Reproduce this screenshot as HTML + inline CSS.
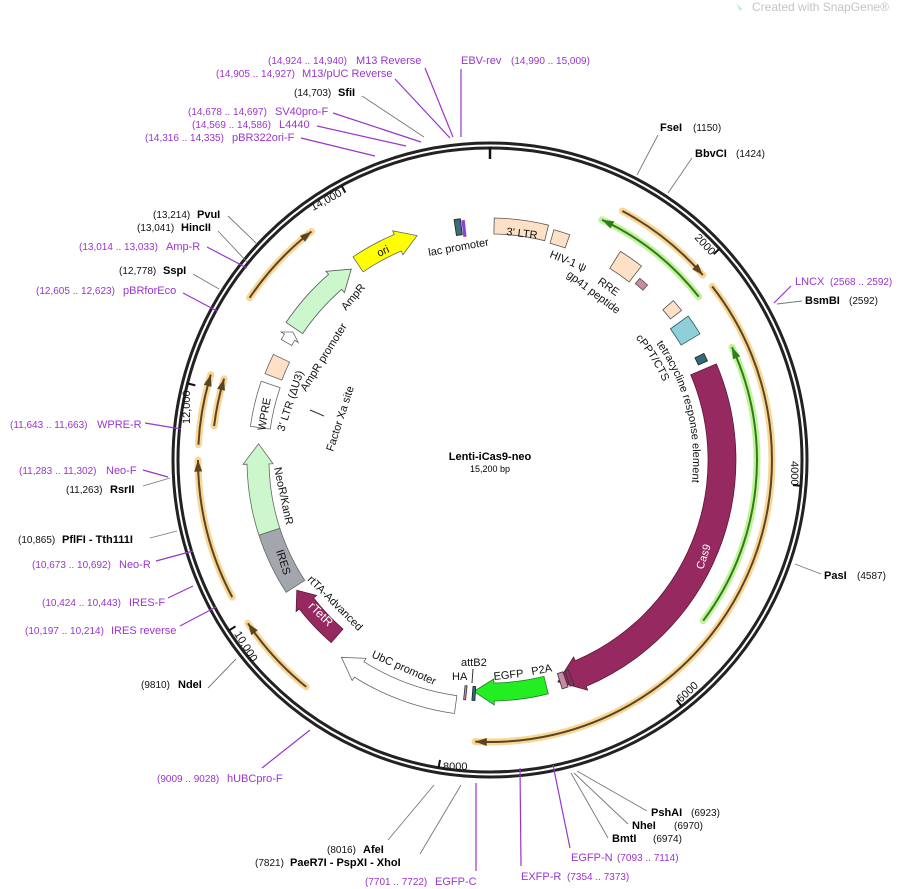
<!DOCTYPE html>
<html><head><meta charset="utf-8">
<style>
html,body{margin:0;padding:0;background:#fff;}
svg{display:block;font-family:"Liberation Sans","DejaVu Sans",sans-serif;}
.p{fill:#9a35cc;font-size:10px;}
.pn{fill:#9a35cc;font-size:11px;}
.k{fill:#111;font-size:10px;}
.b{fill:#000;font-size:11px;font-weight:bold;}
.f{fill:#111;font-size:11px;}
.pl{stroke:#9a35cc;stroke-width:1.2;fill:none;}
.gl{stroke:#777;stroke-width:0.9;fill:none;}
</style></head><body>
<svg id="s" width="904" height="889" viewBox="0 0 904 889" xmlns="http://www.w3.org/2000/svg">
<text x="752" y="11" style="fill:#c4c4c4;font-size:12px">Created with SnapGene®</text>
<path d="M736 3 l4 8 l2 -2 z" fill="#bfe3ef"/>
<circle cx="490" cy="460" r="317" fill="none" stroke="#222" stroke-width="3"/>
<circle cx="490" cy="460" r="312" fill="none" stroke="#222" stroke-width="3"/>
<g id="dyn"></g>
<line x1="490" y1="147" x2="490" y2="159" stroke="#111" stroke-width="2.5"/>

<text class="f" font-size="10" transform="translate(313,211) rotate(-28)">14,000</text>
<text class="f" font-size="10" transform="translate(694,238) rotate(47)">2000</text>
<text class="f" font-size="10" transform="translate(791,461) rotate(90)">4000</text>
<text class="f" font-size="10" transform="translate(681,703) rotate(-43)">6000</text>
<text class="f" font-size="10" x="443" y="770">8000</text>
<text class="f" font-size="10" transform="translate(234,634) rotate(58)">10,000</text>
<text class="f" font-size="10" transform="translate(190,424) rotate(-90)">12,000</text>

<text x="490" y="460" text-anchor="middle" style="font-weight:bold;font-size:11px">Lenti-iCas9-neo</text>
<text x="490" y="472" text-anchor="middle" style="font-size:9px">15,200 bp</text>

<path class="pl" d="M425 68 L453 137 M395 79 L450 138 M461 69 L461 137 M333 113 L421 142 M317 126 L406 146 M301 138 L375 156"/>
<path class="gl" d="M362 96 L424 137"/>
<text class="p" x="268" y="64">(14,924 .. 14,940)</text><text class="pn" x="356" y="64">M13 Reverse</text>
<text class="p" x="216" y="77">(14,905 .. 14,927)</text><text class="pn" x="302" y="77">M13/pUC Reverse</text>
<text class="pn" x="461" y="64">EBV-rev</text><text class="p" x="511" y="64">(14,990 .. 15,009)</text>
<text class="k" x="294" y="96">(14,703)</text><text class="b" x="338" y="96">SfiI</text>
<text class="p" x="188" y="115">(14,678 .. 14,697)</text><text class="pn" x="275" y="115">SV40pro-F</text>
<text class="p" x="192" y="128">(14,569 .. 14,586)</text><text class="pn" x="279" y="128">L4440</text>
<text class="p" x="145" y="141">(14,316 .. 14,335)</text><text class="pn" x="232" y="141">pBR322ori-F</text>

<path class="gl" d="M637 175 L658 135 M668 193 L692 158 M777 304 L802 301 M795 564 L821 574"/>
<path class="pl" d="M774 303 L791 286"/>
<text class="b" x="660" y="131">FseI</text><text class="k" x="693" y="131">(1150)</text>
<text class="b" x="695" y="157">BbvCI</text><text class="k" x="736" y="157">(1424)</text>
<text class="pn" x="795" y="285">LNCX</text><text class="p" x="830" y="285">(2568 .. 2592)</text>
<text class="b" x="805" y="304">BsmBI</text><text class="k" x="849" y="304">(2592)</text>
<text class="b" x="824" y="579">PasI</text><text class="k" x="857" y="579">(4587)</text>

<path class="gl" d="M577 771 L647 811 M574 773 L628 824 M571 773 L608 838 M434 785 L388 840 M461 785 L420 854 M236 659 L208 688"/>
<path class="pl" d="M553 765 L570 848 M520 768 L521 866 M476 783 L476 871 M310 730 L262 768"/>
<text class="b" x="651" y="816">PshAI</text><text class="k" x="691" y="816">(6923)</text>
<text class="b" x="632" y="829">NheI</text><text class="k" x="674" y="829">(6970)</text>
<text class="b" x="612" y="842">BmtI</text><text class="k" x="653" y="842">(6974)</text>
<text class="pn" x="571" y="861">EGFP-N</text><text class="p" x="617" y="861">(7093 .. 7114)</text>
<text class="pn" x="521" y="880">EXFP-R</text><text class="p" x="567" y="880">(7354 .. 7373)</text>
<text class="p" x="365" y="885">(7701 .. 7722)</text><text class="pn" x="435" y="885">EGFP-C</text>
<text class="k" x="327" y="853">(8016)</text><text class="b" x="363" y="853">AfeI</text>
<text class="k" x="255" y="866">(7821)</text><text class="b" x="266" y="866" dx="24">PaeR7I  - PspXI  - XhoI</text>
<text class="p" x="157" y="782">(9009 .. 9028)</text><text class="pn" x="227" y="782">hUBCpro-F</text>
<text class="k" x="141" y="688">(9810)</text><text class="b" x="178" y="688">NdeI</text>

<path class="gl" d="M228 216 L256 243 M218 231 L247 262 M193 274 L219 289 M143 486 L170 478 M150 538 L177 531"/>
<path class="pl" d="M207 247 L247 268 M183 293 L217 311 M145 423 L181 429 M143 470 L168 477 M156 561 L193 551 M168 598 L193 586 M180 626 L216 607"/>
<text class="k" x="153" y="218">(13,214)</text><text class="b" x="197" y="218">PvuI</text>
<text class="k" x="137" y="231">(13,041)</text><text class="b" x="181" y="231">HincII</text>
<text class="p" x="79" y="250">(13,014 .. 13,033)</text><text class="pn" x="166" y="250">Amp-R</text>
<text class="k" x="119" y="274">(12,778)</text><text class="b" x="163" y="274">SspI</text>
<text class="p" x="36" y="294">(12,605 .. 12,623)</text><text class="pn" x="123" y="294">pBRforEco</text>
<text class="p" x="10" y="428">(11,643 .. 11,663)</text><text class="pn" x="97" y="428">WPRE-R</text>
<text class="p" x="19" y="474">(11,283 .. 11,302)</text><text class="pn" x="106" y="474">Neo-F</text>
<text class="k" x="66" y="493">(11,263)</text><text class="b" x="110" y="493">RsrII</text>
<text class="k" x="18" y="543">(10,865)</text><text class="b" x="62" y="543">PflFI  - Tth111I</text>
<text class="p" x="32" y="568">(10,673 .. 10,692)</text><text class="pn" x="119" y="568">Neo-R</text>
<text class="p" x="42" y="606">(10,424 .. 10,443)</text><text class="pn" x="129" y="606">IRES-F</text>
<text class="p" x="25" y="634">(10,197 .. 10,214)</text><text class="pn" x="111" y="634">IRES reverse</text>

<defs>
<path id="tre" d="M 660.9 335.3 A 212 212 0 0 1 701.7 478.5"/>
<path id="cppt" d="M 637.2 336.6 A 192 192 0 0 1 668 388"/>
</defs>
<text class="f" transform="translate(429,256) rotate(-10)">lac promoter</text>
<text class="f" transform="translate(506,235) rotate(7)">3' LTR</text>
<text class="f" transform="translate(549,257) rotate(22)">HIV-1 ψ</text>
<text class="f" transform="translate(597,283) rotate(35)">RRE</text>
<text class="f" transform="translate(566,276) rotate(37)">gp41 peptide</text>
<text class="f"><textPath href="#tre">tetracycline response element</textPath></text>
<text class="f"><textPath href="#cppt">cPPT/CTS</textPath></text>
<text class="f" transform="translate(346,311) rotate(-50)">AmpR</text>
<text class="f" style="font-size:11px" transform="translate(379,257) rotate(-25)">ori</text>
<text class="f" transform="translate(306,392) rotate(-58)">AmpR promoter</text>
<text class="f" transform="translate(284,432) rotate(-72)">3' LTR (ΔU3)</text>
<text class="f" transform="translate(265,431) rotate(-80)">WPRE</text>
<text class="f" transform="translate(333,452) rotate(-72)">Factor Xa site</text>
<line x1="310" y1="410" x2="324" y2="416" stroke="#333" stroke-width="1"/>
<text class="f" transform="translate(274,468) rotate(78)">NeoR/KanR</text>
<text class="f" transform="translate(276,551) rotate(72)">IRES</text>
<text class="f" transform="translate(307,580) rotate(45)">rtTA-Advanced</text>
<text class="f" style="fill:#fff;font-size:12px" text-anchor="middle" transform="translate(318,617) rotate(44)">rTetR</text>
<text class="f" transform="translate(371,657) rotate(24)">UbC promoter</text>
<text class="f" x="452" y="680">HA</text>
<text class="f" x="461" y="666">attB2</text>
<line x1="473" y1="669" x2="472" y2="683" stroke="#333"/>
<text class="f" transform="translate(494,680) rotate(-6)">EGFP</text>
<text class="f" transform="translate(532,675) rotate(-10)">P2A</text>
<text class="f" style="fill:#fff" transform="translate(703,570) rotate(-72)">Cas9</text>
</svg>
<script>
(function(){
var NS="http://www.w3.org/2000/svg",g=document.getElementById("dyn");
function P(r,a){a=a*Math.PI/180;return [(490+r*Math.sin(a)).toFixed(1),(460-r*Math.cos(a)).toFixed(1)];}
function add(tag,at){var e=document.createElementNS(NS,tag);for(var k in at)e.setAttribute(k,at[k]);g.appendChild(e);return e;}
function arc(r,a1,a2){var s=P(r,a1),e=P(r,a2),l=Math.abs(a2-a1)>180?1:0,sw=a2>a1?1:0;return "M"+s+" A"+r+" "+r+" 0 "+l+" "+sw+" "+e;}
function arcTo(r,a1,a2){var e=P(r,a2),l=Math.abs(a2-a1)>180?1:0,sw=a2>a1?1:0;return " A"+r+" "+r+" 0 "+l+" "+sw+" "+e;}
function feat(r,w,a1,a2,fill,stroke,dir,hl){
  var ro=r+w/2,ri=r-w/2,hw=w/2+4,d;hl=hl||(800/r);
  if(dir==0){d="M"+P(ro,a1)+arcTo(ro,a1,a2)+" L"+P(ri,a2)+arcTo(ri,a2,a1)+" Z";}
  else if(dir==1){var b=a2-hl;d="M"+P(ro,a1)+arcTo(ro,a1,b)+" L"+P(r+hw,b)+" L"+P(r,a2)+" L"+P(r-hw,b)+" L"+P(ri,b)+arcTo(ri,b,a1)+" Z";}
  else{var b=a1+hl;d="M"+P(ro,a2)+arcTo(ro,a2,b)+" L"+P(r+hw,b)+" L"+P(r,a1)+" L"+P(r-hw,b)+" L"+P(ri,b)+arcTo(ri,b,a2)+" Z";}
  add("path",{d:d,fill:fill,stroke:stroke||"#555","stroke-width":0.8});
}
function parc(r,a1,a2,dir,glow,line){
  add("path",{d:arc(r,a1,a2),fill:"none",stroke:glow,"stroke-width":7,"stroke-linecap":"round",opacity:0.85});
  add("path",{d:arc(r,a1,a2),fill:"none",stroke:line,"stroke-width":2});
  var t=dir>0?a2:a1,b=dir>0?a2-2.2*300/r:a1+2.2*300/r;
  add("path",{d:"M"+P(r,t)+" L"+P(r+4,b)+" L"+P(r-4,b)+" Z",fill:line});
}
document.getElementById("tre").setAttribute("d",arc(203,55,97));
document.getElementById("cppt").setAttribute("d",arc(190,50,68));
[2000,4000,6000,8000,10000,12000,14000].forEach(function(v){var a=v/15200*360;add("line",{x1:P(312,a)[0],y1:P(312,a)[1],x2:P(304,a)[0],y2:P(304,a)[1],stroke:"#111","stroke-width":2});});
var OG="#f7cf85",OL="#5b4420";
parc(282,28,49,1,OG,OL);
parc(282,52,183,1,OG,OL);
parc(292,219,236,1,OG,OL);
parc(292,242,270,1,OG,OL);
parc(292,273,287,1,OG,OL);
parc(278,277,287,1,OG,OL);
parc(290,304,322,1,OG,OL);
var GG="#b8f08a",GL="#2e7d1b";
parc(265,25,52,-1,GG,GL);
parc(267,65,127,-1,GG,GL);
feat(232,28,67,163,"#962a60","#5a1838",1,6);
feat(232,18,166,184,"#22ee22","#2a7a2a",1,5);
feat(247,18,188,217,"#fff","#666",1,5);
feat(233,18,221,236,"#962a60","#5a1838",1,4);
feat(232,22,237,252,"#a3a7ad","#666",0);
feat(232,22,252,274,"#ccf7cc","#666",1,5);
feat(232,20,278,289,"#fff","#666",0);
feat(232,18,291,296,"#fde0c5","#666",0);
feat(235,12,300,303,"#fff","#666",1,1.5);
feat(236,20,304,324,"#ccf7cc","#555",1,5);
feat(236,18,326,342,"#ffff00","#666",1,5);
feat(234,16,1,14,"#fde0c5","#555",0);
feat(232,14,15.5,19.5,"#fde0c5","#555",0);
feat(236,20,32,38,"#fde0c5","#555",0);
feat(232,7,39.5,42,"#c98aa3","#555",0);
feat(236,14,49,52,"#fde0c5","#555",0);
feat(234,22,54,59,"#8fd0d8","#2a5a64",0);
feat(234,10,63.5,65.5,"#2f6b78","#222",0);
feat(235,16,351.5,353,"#3f6a78","#222",0);
feat(233,16,353.3,353.9,"#8844dd","#8844dd",0);
feat(234,14,183.6,184.3,"#2f6b78","#222",0);
feat(234,14,185.8,186.3,"#c98aa3","#333",0);
feat(232,16,161,162.5,"#c98aa3","#333",0);
feat(232,16,159.5,160.5,"#962a60","#333",0);
})();
</script>
</body></html>
